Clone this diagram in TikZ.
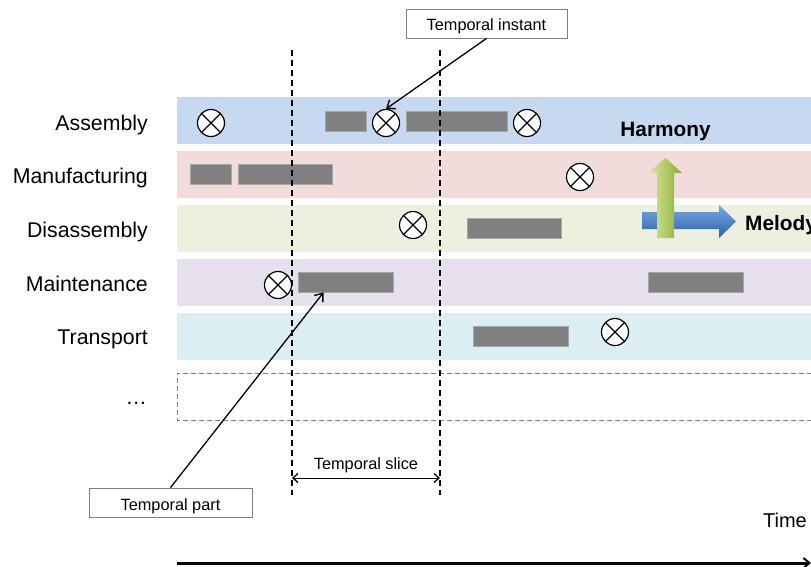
\documentclass[tikz,border=0pt]{standalone}
\usepackage{fontspec}
\setmainfont{Liberation Sans}
\usetikzlibrary{arrows.meta,calc}
\definecolor{laneA}{HTML}{C6D9F0}
\definecolor{laneB}{HTML}{F2DCDB}
\definecolor{laneC}{HTML}{EBF1DE}
\definecolor{laneD}{HTML}{E5E0EC}
\definecolor{laneE}{HTML}{DBEEF3}
\definecolor{barfill}{HTML}{808080}
\definecolor{barline}{HTML}{A6A6A6}
\definecolor{boxline}{HTML}{7F7F7F}
\definecolor{grnlight}{HTML}{DDEAA6}
\definecolor{grndark}{HTML}{86AC2E}
\definecolor{blulight}{HTML}{78A8E0}
\definecolor{bludark}{HTML}{2B63A8}
\tikzset{
  lane/.style={fill=#1, draw=none},
  bar/.style={fill=barfill, draw=barline, line width=0.8, inner sep=0, minimum height=20, minimum width=#1},
  inst/.style={circle, draw=black, fill=white, line width=1.2, minimum size=27, inner sep=0,
    path picture={\draw[line width=1.2] (path picture bounding box.north west) -- (path picture bounding box.south east)
      (path picture bounding box.north east) -- (path picture bounding box.south west);}},
  rowlabel/.style={anchor=base east, font=\fontsize{21.3}{25}\selectfont, inner sep=0},
  callout/.style={draw=boxline, fill=white, line width=0.8, font=\fontsize{16.3}{19}\selectfont, inner sep=0, text depth=0pt},
  slicedash/.style={line width=1.5, dash pattern=on 6pt off 4pt},
  barb/.style={-{Straight Barb[length=7pt,width=11pt,line width=1.4pt]}},
  bigbold/.style={font=\bfseries\fontsize{20.8}{24}\selectfont, inner sep=0}
}
\begin{document}
\begin{tikzpicture}[x=1pt,y=-1pt]
\useasboundingbox (0,0) rectangle (811,566);
\clip (0,0) rectangle (811,566);
% lanes
\fill[lane=laneA] (177,97) rectangle (820,144);
\fill[lane=laneB] (177,151) rectangle (820,198);
\fill[lane=laneC] (177,205) rectangle (820,252);
\fill[lane=laneD] (177,259) rectangle (820,306);
\fill[lane=laneE] (177,313) rectangle (820,360);
\draw[boxline, line width=1, dash pattern=on 5pt off 3pt] (820,373) -- (177,373) -- (177,420) -- (820,420);
% labels
\node[rowlabel] (lA) at (148,130.5) {Assembly};
\node[rowlabel] (lB) at (148,183.5) {Manufacturing};
\node[rowlabel] (lC) at (148,237) {Disassembly};
\node[rowlabel] (lD) at (148,291) {Maintenance};
\node[rowlabel] (lE) at (148,344) {Transport};
\node[rowlabel] (lF) at (147,404) {\dots};
% bars
\node[bar=41] (a1) at (345.5,121) {};
\node[bar=101] (a2) at (456.5,121) {};
\node[bar=41] (b1) at (210.5,174.5) {};
\node[bar=94] (b2) at (285,174.5) {};
\node[bar=94] (c1) at (514,228.5) {};
\node[bar=95] (d1) at (345.5,282) {};
\node[bar=95] (d2) at (695.5,282) {};
\node[bar=95] (e1) at (520.5,336.5) {};
% instants
\node[inst] (ia1) at (211,123) {};
\node[inst] (ia2) at (386,123) {};
\node[inst] (ia3) at (527,123) {};
\node[inst] (ib1) at (580,177) {};
\node[inst] (ic1) at (413,225) {};
\node[inst] (id1) at (278,285) {};
\node[inst] (ie1) at (615,332) {};
% harmony / melody arrows
\shade[top color=blulight, bottom color=bludark, draw=none]
  (642,212) -- (719,212) -- (719,205) -- (736,221.5) -- (719,238) -- (719,229) -- (642,229) -- cycle;
\shade[left color=grnlight, right color=grndark, draw=none]
  (657,238) -- (657,173) -- (648,173) -- (665.5,158) -- (682,173) -- (674,173) -- (674,238) -- cycle;
\node[bigbold, anchor=base] (harm) at (665.5,136) {Harmony};
\node[bigbold, anchor=base west] (mel) at (745,230) {Melody};
% slice lines
\coordinate (s1t) at (292,50);
\coordinate (s1b) at (292,495);
\coordinate (s2t) at (440,50);
\coordinate (s2b) at (440,495);
\draw[slicedash] (s1t) -- (s1b);
\draw[slicedash] (s2t) -- (s2b);
\coordinate (sl) at (292,478);
\coordinate (sr) at (440,478);
\draw[line width=0.9, {Straight Barb[length=5pt,width=9pt,line width=1.3pt]}-{Straight Barb[length=5pt,width=9pt,line width=1.3pt]}] (sl) -- (sr);
\node[font=\fontsize{16.3}{19}\selectfont, inner sep=0, anchor=base] (slice) at (366,469) {Temporal slice};
% callouts
\node[callout, minimum width=161, minimum height=29, text height=14.4pt] (ti) at (486.5,23.5) {Temporal instant};
\node[callout, minimum width=163, minimum height=29, text height=15pt] (tp) at (170.5,502.5) {Temporal part};
\draw[line width=1.3, barb] (ti.south) -- (ia2.north);
\draw[line width=1.3, barb] (tp.north) -- ([xshift=26pt]d1.south west);
% time axis
\coordinate (t0) at (177,563);
\coordinate (t1) at (811,563);
\draw[line width=3, -{Straight Barb[length=6pt,width=10pt,line width=2pt]}] (t0) -- (t1);
\node[font=\fontsize{20}{24}\selectfont, anchor=base east, inner sep=0] (time) at (807,527) {Time};
\end{tikzpicture}
\end{document}
